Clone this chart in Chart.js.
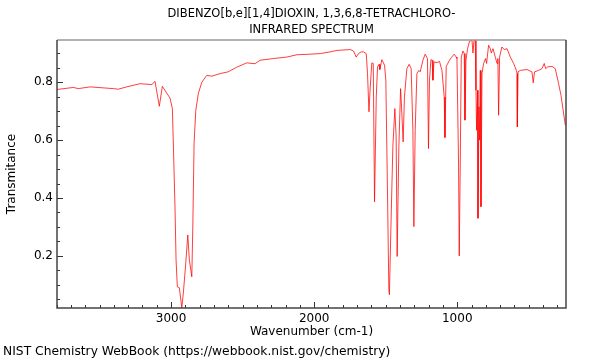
<!DOCTYPE html>
<html>
<head>
<meta charset="utf-8">
<script src="https://cdn.jsdelivr.net/npm/chart.js@4"></script>
<style>
  html, body { margin: 0; padding: 0; background: #fff; }
  #wrap { width: 600px; height: 360px; }
</style>
</head>
<body>
<div id="wrap"><canvas id="irChart" width="600" height="360"></canvas></div>
<script>
// IR spectrum (wavenumber in cm-1, transmittance)
const wavenumbers = [
  3797, 3683, 3648, 3566, 3403, 3369, 3310, 3217, 3135, 3112, 3082, 3061, 3007, 2991,
  2984, 2972, 2965, 2956, 2942, 2925, 2914, 2897, 2883, 2872, 2855, 2848, 2839, 2827,
  2809, 2785, 2750, 2715, 2657, 2601, 2541, 2471, 2413, 2378, 2285, 2191, 2121, 2028,
  1958, 1888, 1841, 1748, 1725, 1706, 1690, 1671, 1655, 1636, 1627, 1617, 1608, 1597,
  1587, 1578, 1566, 1557, 1546, 1541, 1527, 1508, 1499, 1487, 1478, 1474, 1464, 1450,
  1436, 1427, 1420, 1408, 1396, 1387, 1378, 1369, 1352, 1336, 1322, 1310, 1303, 1294,
  1282, 1268, 1259, 1240, 1224, 1208, 1201, 1194, 1184, 1175, 1170, 1163, 1142, 1124,
  1107, 1091, 1086, 1077, 1054, 1042, 1021, 1007, 1002, 991, 986, 979, 972, 960,
  951, 946, 939, 928, 914, 897, 890, 883, 874, 869, 865, 858, 855, 848,
  844, 839, 834, 827, 816, 802, 795, 790, 781, 769, 762, 750, 734, 722,
  716, 711, 704, 688, 671, 652, 629, 606, 587, 582, 580, 575, 559, 513,
  478, 469, 460, 432, 408, 392, 382, 368, 338, 315, 292, 275, 245
];
const transmittance = [
  0.775, 0.782, 0.778, 0.784, 0.778, 0.776, 0.784, 0.795, 0.792, 0.803, 0.717, 0.786, 0.745, 0.710,
  0.590, 0.359, 0.186, 0.093, 0.090, 0.021, 0.072, 0.176, 0.272, 0.186, 0.128, 0.300, 0.590, 0.703,
  0.762, 0.800, 0.824, 0.821, 0.830, 0.836, 0.852, 0.867, 0.864, 0.876, 0.882, 0.887, 0.895, 0.897,
  0.899, 0.905, 0.910, 0.913, 0.908, 0.887, 0.899, 0.905, 0.905, 0.899, 0.830, 0.698, 0.784, 0.867,
  0.865, 0.387, 0.749, 0.853, 0.862, 0.844, 0.878, 0.859, 0.807, 0.404, 0.083, 0.066, 0.290, 0.577,
  0.709, 0.611, 0.198, 0.577, 0.778, 0.692, 0.594, 0.749, 0.847, 0.862, 0.847, 0.634, 0.301, 0.634,
  0.830, 0.841, 0.836, 0.876, 0.897, 0.882, 0.571, 0.807, 0.878, 0.876, 0.807, 0.870, 0.868, 0.872,
  0.841, 0.749, 0.609, 0.855, 0.876, 0.885, 0.897, 0.887, 0.882, 0.521, 0.200, 0.521, 0.887, 0.908,
  0.899, 0.669, 0.876, 0.916, 0.942, 0.945, 0.901, 0.945, 0.945, 0.772, 0.634, 0.772, 0.330, 0.715,
  0.600, 0.841, 0.370, 0.830, 0.865, 0.882, 0.865, 0.887, 0.928, 0.916, 0.901, 0.916, 0.887, 0.865,
  0.882, 0.686, 0.887, 0.922, 0.913, 0.916, 0.887, 0.865, 0.841, 0.830, 0.646, 0.836, 0.841, 0.844,
  0.836, 0.798, 0.836, 0.841, 0.847, 0.865, 0.847, 0.853, 0.855, 0.847, 0.796, 0.755, 0.652
];
const xTickLabels = [1000, 2000, 3000];
const yTickLabels = [0.2, 0.4, 0.6, 0.8];

const titleLines = ['DIBENZO[b,e][1,4]DIOXIN, 1,3,6,8-TETRACHLORO-', 'INFRARED SPECTRUM'];
const FONT = '"DejaVu Sans", sans-serif';

// frame, inward ticks and the loose texts (title, axis names, footer)
const decor = {
  id: 'decor',
  afterDraw(chart) {
    const { ctx, chartArea: a, scales: { x, y } } = chart;
    ctx.save();
    ctx.lineWidth = 1;
    ctx.strokeStyle = '#333';
    ctx.beginPath();
    for (let v = 300; v <= 3800; v += 100) {
      const px = Math.round(x.getPixelForValue(v)) + 0.5;
      const len = v % 1000 === 0 ? 6 : 3;
      ctx.moveTo(px, a.bottom); ctx.lineTo(px, a.bottom - len);
    }
    for (let i = 1; i <= 18; i++) {
      const v = i * 0.05;
      const py = Math.round(y.getPixelForValue(v)) + 0.5;
      const len = i % 4 === 0 ? 6 : 3;
      ctx.moveTo(a.left, py); ctx.lineTo(a.left + len, py);
    }
    ctx.stroke();

    ctx.lineWidth = 1.5;
    ctx.strokeStyle = '#999';
    ctx.beginPath();
    ctx.moveTo(a.left, a.top); ctx.lineTo(a.right, a.top);
    ctx.stroke();
    ctx.strokeStyle = '#444';
    ctx.beginPath();
    ctx.moveTo(a.right, a.top); ctx.lineTo(a.right, a.bottom);
    ctx.lineTo(a.left, a.bottom); ctx.lineTo(a.left, a.top);
    ctx.stroke();

    ctx.fillStyle = '#000';
    ctx.textAlign = 'center';
    ctx.textBaseline = 'middle';
    const cx = (a.left + a.right) / 2;
    ctx.font = '11.5px ' + FONT;
    ctx.fillText(titleLines[0], cx, 14);
    ctx.fillText(titleLines[1], cx, 30);
    ctx.font = '12px ' + FONT;
    ctx.fillText('Wavenumber (cm-1)', cx, 332);

    ctx.save();
    ctx.translate(12, (a.top + a.bottom) / 2);
    ctx.rotate(-Math.PI / 2);
    ctx.fillText('Transmitance', 0, 0);
    ctx.restore();

    ctx.textAlign = 'left';
    ctx.font = '12.3px ' + FONT;
    ctx.fillText('NIST Chemistry WebBook (https://webbook.nist.gov/chemistry)', 3, 352);
    ctx.restore();
  }
};

new Chart(document.getElementById('irChart').getContext('2d'), {
  type: 'line',
  data: {
    datasets: [{
      data: wavenumbers.map((w, i) => ({ x: w, y: transmittance[i] })),
      borderColor: 'rgba(255, 0, 0, 0.85)',
      borderWidth: 0.9,
      pointRadius: 0,
      tension: 0,
      fill: false
    }]
  },
  options: {
    responsive: false,
    animation: false,
    layout: { padding: { left: 0, right: 34, top: 40, bottom: 0 } },
    plugins: { legend: { display: false }, tooltip: { enabled: false } },
    scales: {
      x: {
        type: 'linear',
        reverse: true,
        min: 240,
        max: 3797,
        border: { display: false },
        grid: { display: false, drawTicks: false },
        afterBuildTicks: s => { s.ticks = xTickLabels.map(v => ({ value: v })); },
        afterFit: s => { s.height = 52; },
        ticks: { color: '#000', padding: 4, font: { family: FONT, size: 12 }, maxRotation: 0, callback: v => String(v) }
      },
      y: {
        min: 0.02,
        max: 0.946,
        border: { display: false },
        grid: { display: false, drawTicks: false },
        afterBuildTicks: s => { s.ticks = yTickLabels.map(v => ({ value: v })); },
        afterFit: s => { s.width = 57; },
        ticks: { color: '#000', padding: 4, font: { family: FONT, size: 12 }, callback: v => v.toFixed(1) }
      }
    }
  },
  plugins: [decor]
});
</script>
</body>
</html>
